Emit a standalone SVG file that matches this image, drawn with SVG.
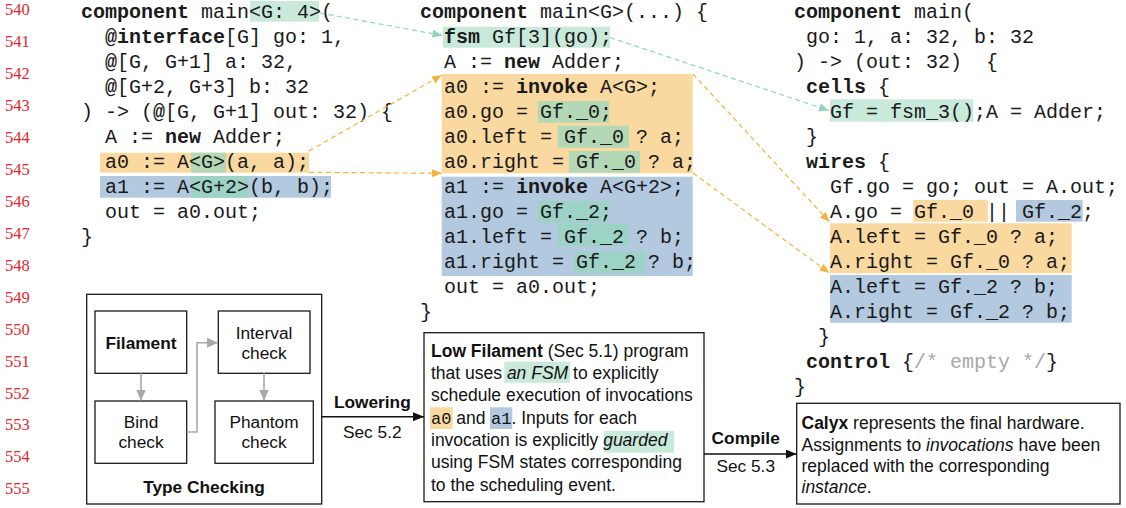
<svg xmlns="http://www.w3.org/2000/svg" width="1126" height="508" viewBox="0 0 1126 508">
  <style>
    .code { font-family: "Liberation Mono", "DejaVu Sans Mono", monospace; font-size: 20px; fill: #1a1a1a; white-space: pre; }
    .b { font-weight: bold; }
    .cmt { fill: #a8a8a8; }
    .ln { font-family: "Liberation Serif", serif; font-size: 16.5px; fill: #e8262b; }
    .lbl { font-family: "Liberation Sans", Arial, sans-serif; font-size: 17.3px; fill: #111; text-anchor: middle; }
    .para { font-family: "Liberation Sans", Arial, sans-serif; font-size: 17.5px; fill: #111; white-space: pre; }
    .pmono { font-family: "Liberation Mono", monospace; font-size: 17px; }
    .box { fill: #fff; stroke: #1a1a1a; stroke-width: 1.3; }
    .hg { fill: #c9e9db; }
    .ho { fill: #f9d9a0; }
    .hb { fill: #b3c9df; }
    .hgo { fill: #b4d8b5; }
    .hgb { fill: #9dd2c7; }
    .dg { fill: none; stroke: #8ed6bc; stroke-width: 1.2; stroke-dasharray: 5 3.5; }
    .do { fill: none; stroke: #f2b43d; stroke-width: 1.2; stroke-dasharray: 5 3.5; }
    .gray { fill: none; stroke: #a9a9a9; stroke-width: 1.6; }
    .blk { fill: none; stroke: #111; stroke-width: 1.4; }
  </style>
  <defs>
    <marker id="ag" markerUnits="userSpaceOnUse" markerWidth="11" markerHeight="8" refX="10" refY="4" orient="auto">
      <path d="M0,0 L10,4 L0,8 z" fill="#8ed6bc"/>
    </marker>
    <marker id="ao" markerUnits="userSpaceOnUse" markerWidth="11" markerHeight="8" refX="10" refY="4" orient="auto">
      <path d="M0,0 L10,4 L0,8 z" fill="#f2b43d"/>
    </marker>
    <marker id="agr" markerUnits="userSpaceOnUse" markerWidth="12" markerHeight="10" refX="11" refY="5" orient="auto">
      <path d="M0,0 L11,5 L0,10 z" fill="#a9a9a9"/>
    </marker>
    <marker id="ak" markerUnits="userSpaceOnUse" markerWidth="12" markerHeight="9" refX="11" refY="4.5" orient="auto">
      <path d="M0,0 L11,4.5 L0,9 z" fill="#111"/>
    </marker>
  </defs>

  <!-- line numbers -->
  <g id="line-numbers" class="ln">
    <text x="5" y="15.3">540</text>
    <text x="5" y="47.2">541</text>
    <text x="5" y="79.2">542</text>
    <text x="5" y="111.1">543</text>
    <text x="5" y="143">544</text>
    <text x="5" y="175">545</text>
    <text x="5" y="206.9">546</text>
    <text x="5" y="238.8">547</text>
    <text x="5" y="270.7">548</text>
    <text x="5" y="302.7">549</text>
    <text x="5" y="334.6">550</text>
    <text x="5" y="366.5">551</text>
    <text x="5" y="398.5">552</text>
    <text x="5" y="430.4">553</text>
    <text x="5" y="462.3">554</text>
    <text x="5" y="494.3">555</text>
  </g>

  <!-- Filament source -->
  <g id="filament-code">
    <rect class="hg" x="250" y="1" width="69" height="20.7"/>
    <rect class="ho" x="100" y="152.7" width="209" height="20"/>
    <rect class="hgo" x="191" y="152.7" width="35" height="20"/>
    <rect class="hb" x="100" y="176" width="231" height="21.7"/>
    <rect class="hgb" x="191" y="176" width="57.3" height="21.7"/>
    <text class="code" x="81" y="18.3"><tspan class="b">component</tspan> main&lt;G: 4&gt;(</text>
    <text class="code" x="105" y="43.3"><tspan class="b">@interface</tspan>[G] go: 1,</text>
    <text class="code" x="105" y="68.3"><tspan class="b">@</tspan>[G, G+1] a: 32,</text>
    <text class="code" x="105" y="93.3"><tspan class="b">@</tspan>[G+2, G+3] b: 32</text>
    <text class="code" x="81" y="118.3">) -&gt; (<tspan class="b">@</tspan>[G, G+1] out: 32) {</text>
    <text class="code" x="105" y="143.3">A := <tspan class="b">new</tspan> Adder;</text>
    <text class="code" x="105" y="168.3">a0 := A&lt;G&gt;(a, a);</text>
    <text class="code" x="105" y="193.3">a1 := A&lt;G+2&gt;(b, b);</text>
    <text class="code" x="105" y="218.3">out = a0.out;</text>
    <text class="code" x="81" y="243.3">}</text>
  </g>

  <!-- Low Filament code -->
  <g id="low-filament-code">
    <rect class="hg" x="442.7" y="26.7" width="167.3" height="21"/>
    <rect class="ho" x="441.7" y="74" width="251" height="99.3"/>
    <rect class="hb" x="441.7" y="176.7" width="251" height="99.3"/>
    <rect class="hgo" x="537.7" y="101" width="71.3" height="21.7"/>
    <rect class="hgo" x="557.7" y="125.7" width="71.3" height="22"/>
    <rect class="hgo" x="569" y="151" width="71" height="21.7"/>
    <rect class="hgb" x="537.7" y="201" width="71.3" height="21.7"/>
    <rect class="hgb" x="557.7" y="224" width="71.3" height="22"/>
    <rect class="hgb" x="574" y="251.7" width="71" height="21.6"/>
    <text class="code" x="420" y="18.3"><tspan class="b">component</tspan> main&lt;G&gt;(...) {</text>
    <text class="code" x="444" y="43.3"><tspan class="b">fsm</tspan> Gf[3](go);</text>
    <text class="code" x="444" y="68.3">A := <tspan class="b">new</tspan> Adder;</text>
    <text class="code" x="444" y="93.3">a0 := <tspan class="b">invoke</tspan> A&lt;G&gt;;</text>
    <text class="code" x="444" y="118.3">a0.go = Gf._0;</text>
    <text class="code" x="444" y="143.3">a0.left = Gf._0 ? a;</text>
    <text class="code" x="444" y="168.3">a0.right = Gf._0 ? a;</text>
    <text class="code" x="444" y="193.3">a1 := <tspan class="b">invoke</tspan> A&lt;G+2&gt;;</text>
    <text class="code" x="444" y="218.3">a1.go = Gf._2;</text>
    <text class="code" x="444" y="243.3">a1.left = Gf._2 ? b;</text>
    <text class="code" x="444" y="268.3">a1.right = Gf._2 ? b;</text>
    <text class="code" x="444" y="293.3">out = a0.out;</text>
    <text class="code" x="420" y="318.3">}</text>
  </g>

  <!-- Calyx code -->
  <g id="calyx-code">
    <rect class="hg" x="830" y="99.3" width="143.3" height="22.4"/>
    <rect class="ho" x="913.3" y="200" width="74.4" height="21.7"/>
    <rect class="hb" x="1016" y="200" width="66.7" height="21.7"/>
    <rect class="ho" x="830" y="223.3" width="241.7" height="50"/>
    <rect class="hb" x="830" y="275" width="241.7" height="47.7"/>
    <text class="code" x="794" y="18.3"><tspan class="b">component</tspan> main(</text>
    <text class="code" x="806" y="43.3">go: 1, a: 32, b: 32</text>
    <text class="code" x="794" y="68.3">) -&gt; (out: 32)  {</text>
    <text class="code" x="806" y="93.3"><tspan class="b">cells</tspan> {</text>
    <text class="code" x="830" y="118.3">Gf = fsm_3();A = Adder;</text>
    <text class="code" x="806" y="143.3">}</text>
    <text class="code" x="806" y="168.3"><tspan class="b">wires</tspan> {</text>
    <text class="code" x="830" y="193.3">Gf.go = go; out = A.out;</text>
    <text class="code" x="830" y="218.3">A.go = Gf._0 || Gf._2;</text>
    <text class="code" x="830" y="243.3">A.left = Gf._0 ? a;</text>
    <text class="code" x="830" y="268.3">A.right = Gf._0 ? a;</text>
    <text class="code" x="830" y="293.3">A.left = Gf._2 ? b;</text>
    <text class="code" x="830" y="318.3">A.right = Gf._2 ? b;</text>
    <text class="code" x="818" y="343.3">}</text>
    <text class="code" x="806" y="368.3"><tspan class="b">control</tspan> {<tspan class="cmt">/* empty */</tspan>}</text>
    <text class="code" x="794" y="393.3">}</text>
  </g>

  <!-- Type checking stage -->
  <g id="type-checking">
    <rect class="box" x="86.7" y="294.3" width="235" height="209.7"/>
    <text class="lbl" x="204" y="493.3" font-weight="bold">Type Checking</text>
  </g>
  <g id="filament">
    <rect class="box" x="95" y="311" width="91.7" height="62.3"/>
    <text class="lbl" x="141" y="349" font-weight="bold">Filament</text>
  </g>
  <g id="interval-check">
    <rect class="box" x="218.3" y="311" width="91.7" height="62.3"/>
    <text class="lbl" x="264" y="339.3">Interval</text>
    <text class="lbl" x="264" y="358.8">check</text>
  </g>
  <g id="bind-check">
    <rect class="box" x="95" y="401" width="91.7" height="62.3"/>
    <text class="lbl" x="141" y="428.3">Bind</text>
    <text class="lbl" x="141" y="448.3">check</text>
  </g>
  <g id="phantom-check">
    <rect class="box" x="215" y="401" width="98.3" height="62.3"/>
    <text class="lbl" x="264" y="428.3">Phantom</text>
    <text class="lbl" x="264" y="448.3">check</text>
  </g>

  <!-- pass labels -->
  <g id="lowering-label">
    <text class="lbl" x="372.3" y="408.3" font-weight="bold">Lowering</text>
    <text class="lbl" x="372.3" y="438.3">Sec 5.2</text>
  </g>
  <g id="compile-label">
    <text class="lbl" x="745.7" y="444" font-weight="bold">Compile</text>
    <text class="lbl" x="745.7" y="471.7">Sec 5.3</text>
  </g>

  <!-- Low Filament description -->
  <g id="low-filament">
    <rect class="box" x="424" y="332.7" width="280" height="169"/>
    <rect class="hg" x="504.3" y="361.7" width="65.7" height="21"/>
    <rect class="ho" x="430" y="407.3" width="22.7" height="21.7"/>
    <rect class="hb" x="490" y="407.3" width="22.3" height="21.7"/>
    <rect class="hg" x="604" y="431" width="70" height="21.7"/>
    <text class="para" x="431" y="356.7"><tspan font-weight="bold">Low Filament</tspan> (Sec 5.1) program</text>
    <text class="para" x="431" y="379">that uses <tspan font-style="italic">an FSM</tspan> to explicitly</text>
    <text class="para" x="431" y="401.3">schedule execution of invocations</text>
    <text class="para" x="431" y="423.6"><tspan class="pmono">a0</tspan> and <tspan class="pmono" x="491">a1</tspan>. Inputs for each</text>
    <text class="para" x="431" y="445.9">invocation is explicitly <tspan font-style="italic">guarded</tspan></text>
    <text class="para" x="431" y="468.2">using FSM states corresponding</text>
    <text class="para" x="431" y="490.5">to the scheduling event.</text>
  </g>

  <!-- Calyx description -->
  <g id="calyx">
    <rect class="box" x="796.7" y="403.3" width="323.3" height="100.7"/>
    <text class="para" x="801.5" y="429.3"><tspan font-weight="bold">Calyx</tspan> represents the final hardware.</text>
    <text class="para" x="801.5" y="450.6">Assignments to <tspan font-style="italic">invocations</tspan> have been</text>
    <text class="para" x="801.5" y="471.9">replaced with the corresponding</text>
    <text class="para" x="801.5" y="493.3"><tspan font-style="italic">instance</tspan>.</text>
  </g>

  <!-- connectors, drawn last so they sit on top of the boxes -->
  <g id="connectors">
    <path class="dg" d="M320,13 L442.5,35.5" marker-end="url(#ag)"/>
    <path class="dg" d="M610,37.5 L829,110.5" marker-end="url(#ag)"/>
    <path class="do" d="M309,151 L442,75" marker-end="url(#ao)"/>
    <path class="do" d="M309,172.3 L442,173.3" marker-end="url(#ao)"/>
    <path class="do" d="M693,74 L829.5,222" marker-end="url(#ao)"/>
    <path class="do" d="M693,173 L829.5,273" marker-end="url(#ao)"/>
    <!-- type checking internals -->
    <path class="gray" d="M141,373.3 L141,400.5" marker-end="url(#agr)"/>
    <path class="gray" d="M186.7,432 L197,432 L197,342.7 L218,342.7" marker-end="url(#agr)"/>
    <path class="gray" d="M264,373.3 L264,400.5" marker-end="url(#agr)"/>
    <!-- pipeline arrows -->
    <path class="blk" d="M321.7,416.7 L424,416.7" marker-end="url(#ak)"/>
    <path class="blk" d="M704,454 L796.7,454" marker-end="url(#ak)"/>
  </g>
</svg>
